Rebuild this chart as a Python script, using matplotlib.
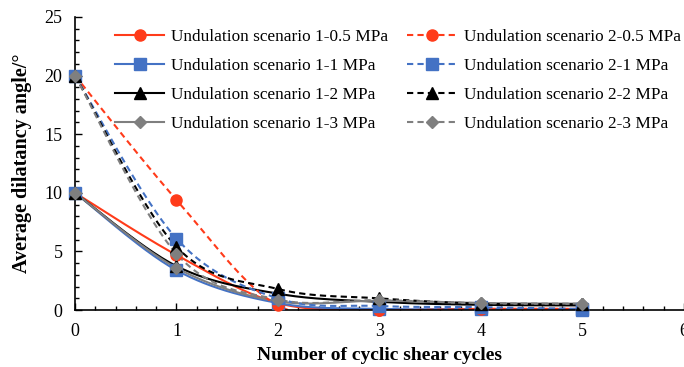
import numpy as np
import matplotlib.pyplot as plt
from matplotlib.ticker import MultipleLocator

plt.rcParams['font.family'] = ['Liberation Serif', 'DejaVu Serif']

cycles = [0, 1, 2, 3, 4, 5]

# average dilatancy angle (deg) per cycle
s1_05 = [10, 4.7, 0.6, 0.05, 0.1, 0.1]
s1_1 = [10, 3.4, 0.6, 0.1, 0.1, 0.05]
s1_2 = [10, 3.75, 1.4, 0.7, 0.45, 0.4]
s1_3 = [10, 3.6, 0.75, 0.8, 0.6, 0.55]
s2_05 = [20, 9.4, 0.4, 0.0, 0.1, 0.1]
s2_1 = [20, 6.1, 1.0, 0.35, 0.25, 0.1]
s2_2 = [20, 5.4, 1.8, 1.0, 0.55, 0.5]
s2_3 = [20, 4.8, 0.9, 0.85, 0.6, 0.55]

labels_1 = ['Undulation scenario 1-0.5 MPa', 'Undulation scenario 1-1 MPa',
            'Undulation scenario 1-2 MPa', 'Undulation scenario 1-3 MPa']
labels_2 = ['Undulation scenario 2-0.5 MPa', 'Undulation scenario 2-1 MPa',
            'Undulation scenario 2-2 MPa', 'Undulation scenario 2-3 MPa']

colors = ['#FF3B1A', '#4472C4', '#000000', '#7F7F7F']
markers = ['o', 's', '^', 'D']
msizes = [8, 8, 8, 6]


def smooth(x, y, n=30):
    """Bezier smoothing through the points, like a spreadsheet 'smoothed line'."""
    x = np.asarray(x, float)
    y = np.asarray(y, float)
    P = np.column_stack([x, y])
    P = np.vstack([P[0], P, P[-1]])
    out = []
    t = np.linspace(0, 1, n)[:, None]
    for i in range(1, len(P) - 2):
        p0, p3 = P[i], P[i + 1]
        c1 = p0 + (P[i + 1] - P[i - 1]) / 6
        c2 = p3 - (P[i + 2] - P[i]) / 6
        seg = ((1 - t) ** 3 * p0 + 3 * (1 - t) ** 2 * t * c1
               + 3 * (1 - t) * t ** 2 * c2 + t ** 3 * p3)
        out.append(seg if i == 1 else seg[1:])
    out = np.vstack(out)
    return out[:, 0], out[:, 1]


fig = plt.figure(figsize=(6.84, 3.67), dpi=100)
ax = fig.add_axes([0.1096, 0.155, 0.8904, 0.799])

handles = []
for ys, lab, c, m, ms in zip([s1_05, s1_1, s1_2, s1_3], labels_1, colors, markers, msizes):
    sx, sy = smooth(cycles, ys)
    ax.plot(sx, sy, color=c, lw=1.5)
    ax.plot(cycles, ys, ls='none', marker=m, ms=ms, color=c, clip_on=False, zorder=3)
    h, = ax.plot([], [], color=c, lw=1.5, marker=m, ms=ms, label=lab)
    handles.append(h)
for ys, lab, c, m, ms in zip([s2_05, s2_1, s2_2, s2_3], labels_2, colors, markers, msizes):
    sx, sy = smooth(cycles, ys)
    ax.plot(sx, sy, color=c, lw=1.5, ls=(0, (3, 2)))
    ax.plot(cycles, ys, ls='none', marker=m, ms=ms, color=c, clip_on=False, zorder=3)
    h, = ax.plot([], [], color=c, lw=1.5, ls=(0, (3, 2)), marker=m, ms=ms, label=lab)
    handles.append(h)

ax.set_xlim(0, 6)
ax.set_ylim(0, 25)
ax.xaxis.set_major_locator(MultipleLocator(1))
ax.xaxis.set_minor_locator(MultipleLocator(0.2))
ax.yaxis.set_major_locator(MultipleLocator(5))
ax.yaxis.set_minor_locator(MultipleLocator(1))
ax.tick_params(which='both', direction='in', labelsize=13, width=1)
ax.tick_params(which='major', length=5)
ax.tick_params(which='minor', length=3)
ax.tick_params(axis='x', pad=9)
ax.tick_params(axis='y', pad=9)
for side in ['top', 'right']:
    ax.spines[side].set_visible(False)
for side in ['left', 'bottom']:
    ax.spines[side].set_linewidth(1.2)

ax.set_xlabel('Number of cyclic shear cycles', fontsize=14, fontweight='bold', labelpad=5)
ax.set_ylabel('Average dilatancy angle/°', fontsize=14.5, fontweight='bold', labelpad=9)

ax.legend(handles=handles, ncol=2, loc='upper right', bbox_to_anchor=(1.021, 1.013),
          frameon=False, fontsize=12.4, handlelength=2.9, columnspacing=1.1,
          labelspacing=0.75, handletextpad=0.4)

fig.savefig('out.png', dpi=100)
